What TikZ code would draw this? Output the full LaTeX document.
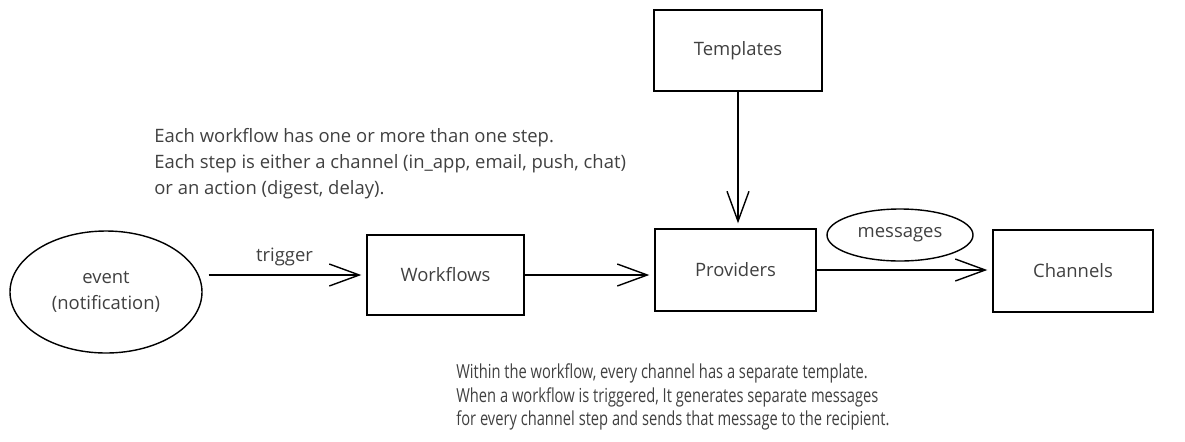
\documentclass[tikz,border=0pt]{standalone}
\usepackage{fontspec}
\setmainfont{Open Sans}
\newfontfamily\narrowfont[FakeStretch=0.76]{Open Sans}
\usepackage{tikz}
\usetikzlibrary{shapes.geometric, arrows.meta, positioning, calc}
\tikzstyle{box} = [rectangle, draw=black, line width=0.8pt, minimum width=3.2cm, minimum height=1.64cm, text centered, text=black!75]
\tikzstyle{bubble} = [ellipse, draw=black, line width=0.8pt, text centered, text=black!75, align=center]
\tikzstyle{note} = [anchor=north west, align=left, inner sep=0pt, text=black!75]
\tikzstyle{arrow} = [line width=0.8pt, -{Straight Barb[length=0.6cm, width=0.44cm]}, shorten >=0.1cm]

\begin{document}
\begin{tikzpicture}[node distance=0.6cm, font=\fontsize{10.5}{14.7}\selectfont]
    \useasboundingbox (0,0) rectangle (23.7,-8.82);

    % Event
    \node (event) [bubble, minimum width=3.84cm, minimum height=2.44cm] at (2.12,-5.84) {event\\(notification)};

    % Boxes
    \node (wf) [box, minimum width=3.14cm, minimum height=1.6cm] at (8.91,-5.5) {Workflows};
    \node (prov) [box, minimum width=3.22cm] at (14.71,-5.4) {Providers};
    \node (tmpl) [box, minimum width=3.36cm, minimum height=1.62cm] at (14.76,-1.01) {Templates};
    \node (chan) [box] at (21.46,-5.42) {Channels};
    \node (msg) [bubble, minimum width=2.92cm, minimum height=1.04cm] at (18.0,-4.7) {messages};

    % Connections
    \draw [arrow, shorten <=0.12cm] (event.east |- wf.west) -- node[above=0.06cm, text=black!75] {trigger} (wf.west);
    \draw [arrow] (wf.east) -- (wf.east -| prov.west);
    \draw [arrow] (tmpl.south) -- (tmpl.south |- prov.north);
    \draw [arrow] (prov.east) -- (prov.east -| chan.west);

    % Notes
    \node (note1) [note] at (3.08,-2.56) {Each workflow has one or more than one step.\\
        Each step is either a channel (in\_app, email, push, chat)\\
        or an action (digest, delay).};
    \node (note2) [note, font=\narrowfont\fontsize{11}{13.6}\selectfont] at (9.12,-7.26) {Within the workflow, every channel has a separate template.\\
        When a workflow is triggered, It generates separate messages\\
        for every channel step and sends that message to the recipient.};
\end{tikzpicture}
\end{document}
